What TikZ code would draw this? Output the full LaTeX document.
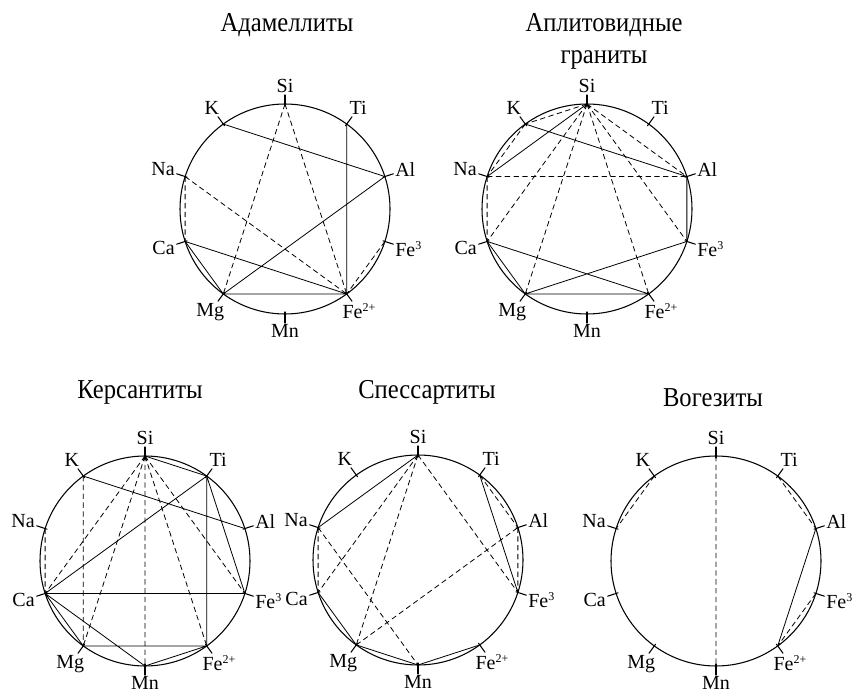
\documentclass[tikz,border=0pt]{standalone}
\usepackage{fontspec}
\setmainfont{Liberation Serif}
\newfontfamily\headfont{Liberation Serif}[FakeStretch=0.9]
\newcommand\supidx[1]{\raisebox{0.8ex}{\fontsize{9}{9}\selectfont #1}}
\begin{document}
\begin{tikzpicture}[x=0.75pt, y=0.75pt, font=\fontsize{15}{18}\selectfont, line join=round, line cap=round,
  rim/.style={line width=0.8pt},
  link/.style={line width=0.6pt},
  dlink/.style={line width=0.6pt, dash pattern=on 4pt off 2.6pt, line cap=butt},
  title/.style={font=\headfont\fontsize{20.5}{24}\selectfont, align=center}]
\useasboundingbox (0,0) rectangle (853,697);
\node[title] (t1) at (287,672) {Адамеллиты};
\node[title] (t2) at (604,656) {Аплитовидные\\граниты};
\node[title] (t3) at (140,305) {Керсантиты};
\node[title] (t4) at (427,305) {Спессартиты};
\node[title] (t5) at (713,299) {Вогезиты};
\foreach \n/\cx/\cy in {a/285/488, b/587/488, c/145/136, d/418/137, e/716/136} {
  \coordinate (\n) at (\cx,\cy);
  \draw[rim] (\n) circle (105);
  \foreach \el/\ang/\txt [evaluate=\ang as \opp using int(\ang+180)] in
    {Si/90/Si, Ti/54/Ti, Al/18/Al, Fe3/-18/{Fe\supidx{3}}, Fe2/-54/{Fe\supidx{2+}},
     Mn/-90/Mn, Mg/-126/Mg, Ca/-162/Ca, Na/162/Na, K/126/K} {
    \coordinate (\n-\el) at ([shift={(\ang:105)}]\n);
    \draw[rim] ([shift={(\ang:103)}]\n) -- ([shift={(\ang:114)}]\n)
      node[anchor=\opp, inner sep=1pt] (\n-\el-lab) {\txt};
  }
}
% Адамеллиты
\draw[link] (a-K)--(a-Al) (a-Ti)--(a-Fe2) (a-Al)--(a-Mg) (a-Ca)--(a-Fe2) (a-Mg)--(a-Fe2) (a-Ca)--(a-Mg);
\draw[dlink] (a-Si)--(a-Mg) (a-Si)--(a-Fe2) (a-Na)--(a-Fe2) (a-Na)--(a-Ca) (a-Fe3)--(a-Fe2);
% Аплитовидные граниты
\draw[link] (b-Si)--(b-Na) (b-K)--(b-Al) (b-Al)--(b-Fe3) (b-Ca)--(b-Fe2) (b-Mg)--(b-Fe3) (b-Mg)--(b-Fe2) (b-Ca)--(b-Mg);
\draw[dlink] (b-Si)--(b-K) (b-K)--(b-Na) (b-Na)--(b-Al) (b-Na)--(b-Ca) (b-Si)--(b-Ca) (b-Si)--(b-Mg)
  (b-Si)--(b-Fe2) (b-Si)--(b-Fe3) (b-Si)--(b-Al);
% Керсантиты
\draw[link] (c-Si)--(c-Ti) (c-K)--(c-Al) (c-Ti)--(c-Ca) (c-Ti)--(c-Fe2) (c-Ti)--(c-Fe3) (c-Ca)--(c-Fe3)
  (c-Ca)--(c-Mg) (c-Ca)--(c-Mn) (c-Mg)--(c-Fe2) (c-Mn)--(c-Fe2);
\draw[dlink] (c-Si)--(c-Ca) (c-Si)--(c-Mg) (c-Si)--(c-Mn) (c-Si)--(c-Fe2) (c-Si)--(c-Fe3) (c-K)--(c-Mg) (c-Na)--(c-Ca);
% Спессартиты
\draw[link] (d-Si)--(d-Na) (d-Ti)--(d-Fe3) (d-Ca)--(d-Mg) (d-Mg)--(d-Mn) (d-Mn)--(d-Fe2);
\draw[dlink] (d-Si)--(d-Ca) (d-Si)--(d-Mg) (d-Si)--(d-Fe3) (d-Na)--(d-Ca) (d-Na)--(d-Mn) (d-Mg)--(d-Al)
  (d-Ti)--(d-Al) (d-Al)--(d-Fe3);
% Вогезиты
\draw[link] (e-Al)--(e-Fe2);
\draw[dlink] (e-Si)--(e-Mn) (e-K)--(e-Na) (e-Ti)--(e-Al) (e-Fe3)--(e-Fe2);
\end{tikzpicture}
\end{document}
